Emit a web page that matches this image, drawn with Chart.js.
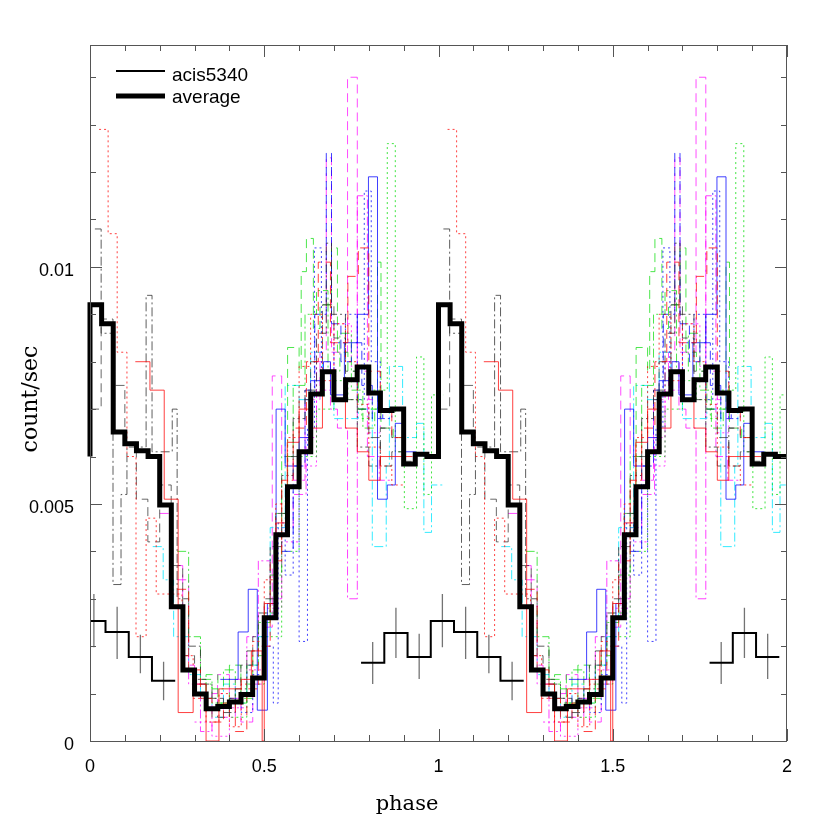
<!DOCTYPE html>
<html><head><meta charset="utf-8">
<script src="https://cdn.jsdelivr.net/npm/chart.js@4.4.1/dist/chart.umd.min.js"></script>
<style>html,body{margin:0;padding:0;background:#fff}</style>
</head><body>
<canvas id="c" width="830" height="830" style="display:block;width:830px;height:830px"></canvas>
<script>
// ---------------- data ----------------
const xTickValues = [0, 0.5, 1, 1.5, 2];
const xTickLabels = ['0', '0.5', '1', '1.5', '2'];
const yTickValues = [0, 0.005, 0.01];
const yTickLabels = ['0', '0.005', '0.01'];
const yMax = 0.01468;
const cycles = [0, 1];

// average light curve, 30 phase bins per cycle
const averageValues = [0.0092, 0.0088, 0.00652, 0.00627, 0.00612, 0.0060, 0.00498, 0.00283, 0.0015, 0.00099,
  0.00068, 0.00073, 0.00082, 0.00098, 0.00133, 0.0026, 0.00435, 0.00536, 0.0061, 0.00732,
  0.00779, 0.0072, 0.00762, 0.00789, 0.00734, 0.00697, 0.0070, 0.00584, 0.00605, 0.0060];

// acis5340, 15 phase bins per cycle (null = not plotted)
const acisBinStarts = [-0.0222, 0.0445, 0.1112, 0.1778, 0.2445, 0.3112, 0.3778, 0.4445, 0.5112, 0.5778, 0.6445, 0.7112, 0.7778, 0.8445, 0.9112];
const acisValues = [0.00253, 0.0023, 0.00177, 0.00127, null, null, null, null, null, null, null, null, 0.00165, 0.00228, 0.00177];
const acisErrLow = [0.00198, 0.00173, 0.00143, 0.00086, null, null, null, null, null, null, null, null, 0.0012, 0.00175, 0.00131];
const acisErrHigh = [0.0031, 0.00283, 0.00224, 0.00167, null, null, null, null, null, null, null, null, 0.00209, 0.00281, 0.00226];

// individual observations: [phase bin start, count/sec]
const redSolid = [[0.13,0.0080],[0.172,0.0074],[0.213,0.0051],[0.253,0.0006],[0.296,0.0012],[0.333,0.0],[0.37,0.0011],[0.434,0.0013],[0.463,0.0019],[0.494,0.0],[0.5,0.0029],[0.534,0.0046],[0.566,0.0063],[0.6,0.0070],[0.633,0.0066],[0.667,0.0078],[0.7,0.0072],[0.733,0.0066],[0.767,0.0061],[0.8,0.0055],[0.833,0.0060],[0.866,0.0060]];
const redDotted = [[0.026,0.0129],[0.052,0.0107],[0.078,0.0082],[0.106,0.0060],[0.132,0.0022],[0.161,0.0047],[0.19,0.0031],[0.236,0.0031],[0.264,0.0018],[0.296,0.0009],[0.333,0.0004],[0.37,0.0010],[0.40,0.0003],[0.434,0.0012],[0.467,0.0021],[0.5,0.0034],[0.533,0.0050],[0.567,0.0064],[0.6,0.0079],[0.633,0.0090],[0.667,0.0076],[0.70,0.0088],[0.733,0.0080],[0.767,0.0071],[0.80,0.0062],[0.833,0.0058],[0.866,0.0054]];
const redDashed = [[0.25,0.0032],[0.283,0.0015],[0.317,0.0009],[0.35,0.0004],[0.383,0.0008],[0.417,0.0002],[0.45,0.0011],[0.483,0.0020],[0.517,0.0038],[0.55,0.0055],[0.583,0.0066],[0.621,0.0080],[0.655,0.0101],[0.69,0.0084],[0.74,0.0098],[0.77,0.0104],[0.80,0.0078],[0.833,0.0070],[0.866,0.0064],[0.9,0.0060]];
const grayDashDot = [[0.014,0.0108],[0.032,0.0086],[0.066,0.0033],[0.089,0.0052],[0.106,0.0062],[0.161,0.0094],[0.178,0.0061],[0.236,0.0070],[0.25,0.0030],[0.283,0.0020],[0.317,0.0012],[0.35,0.0009],[0.383,0.0006],[0.417,0.0011],[0.45,0.0019],[0.483,0.0027],[0.517,0.0041],[0.55,0.0056],[0.583,0.0068],[0.617,0.0074],[0.65,0.0086],[0.678,0.0105],[0.693,0.0090],[0.733,0.0072],[0.767,0.0062],[0.80,0.0058],[0.833,0.0066],[0.866,0.0064]];
const grayDashed = [[0.0,0.0070],[0.032,0.0089],[0.066,0.0075],[0.1,0.0063],[0.133,0.0051],[0.166,0.0042],[0.2,0.0054],[0.233,0.0037],[0.266,0.0018],[0.3,0.0013],[0.333,0.0009],[0.366,0.0005],[0.40,0.0009],[0.433,0.0016],[0.467,0.0022],[0.5,0.0030],[0.533,0.0048],[0.567,0.0060],[0.6,0.0072],[0.633,0.0080],[0.667,0.0092],[0.70,0.0085],[0.733,0.0078],[0.767,0.0070],[0.8,0.0064],[0.833,0.0058],[0.866,0.0061],[0.9,0.0059]];
const blueSolid = [[0.374,0.0013],[0.425,0.0023],[0.454,0.0032],[0.48,0.00065],[0.509,0.0029],[0.534,0.0070],[0.56,0.0058],[0.6,0.0064],[0.633,0.0076],[0.67,0.0080],[0.69,0.0073],[0.73,0.0084],[0.767,0.0090],[0.799,0.0119],[0.825,0.0051],[0.853,0.0054],[0.876,0.0067],[0.902,0.0061]];
const blueDotted = [[0.40,0.0009],[0.434,0.0006],[0.467,0.0014],[0.5,0.0020],[0.526,0.0008],[0.54,0.0046],[0.56,0.0035],[0.583,0.0054],[0.6,0.0021],[0.624,0.0066],[0.644,0.0104],[0.664,0.0078],[0.70,0.0084],[0.733,0.0090],[0.767,0.0072],[0.787,0.0116],[0.807,0.0080],[0.833,0.0068],[0.866,0.0070]];
const blueDashed = [[0.55,0.0040],[0.583,0.0058],[0.617,0.0074],[0.645,0.0090],[0.678,0.0124],[0.693,0.0088],[0.72,0.0080],[0.75,0.0084],[0.78,0.0075],[0.81,0.0068],[0.84,0.0070]];
const greenDashed = [[0.30,0.0010],[0.333,0.0014],[0.367,0.0008],[0.40,0.0016],[0.433,0.0009],[0.467,0.0018],[0.5,0.0027],[0.533,0.0048],[0.567,0.0083],[0.6,0.0078],[0.606,0.0099],[0.621,0.0106],[0.641,0.0087],[0.66,0.0092],[0.693,0.0104],[0.71,0.0082],[0.74,0.0078],[0.77,0.0070],[0.825,0.0101],[0.835,0.0066],[0.87,0.0064]];
const greenDotted = [[0.30,0.0012],[0.35,0.0008],[0.40,0.0005],[0.45,0.0012],[0.5,0.0022],[0.55,0.0040],[0.6,0.0060],[0.65,0.0070],[0.70,0.0076],[0.74,0.0072],[0.78,0.0068],[0.81,0.0074],[0.853,0.0126],[0.876,0.0061],[0.902,0.0049],[0.937,0.0081],[0.958,0.0052],[0.98,0.0073]];
const greenDashDot = [[0.25,0.0040],[0.283,0.0022],[0.317,0.0013],[0.35,0.0011],[0.383,0.0015],[0.417,0.0008],[0.45,0.0016],[0.483,0.0025],[0.517,0.0035],[0.55,0.0060],[0.583,0.0075],[0.617,0.0090],[0.65,0.0095],[0.683,0.0078],[0.717,0.0086],[0.75,0.0074],[0.783,0.0066],[0.817,0.0070]];
const cyanDashDot = [[0.18,0.0041],[0.21,0.0034],[0.24,0.0022],[0.283,0.0014],[0.317,0.0009],[0.35,0.0005],[0.383,0.0012],[0.417,0.0008],[0.45,0.0016],[0.483,0.0022],[0.517,0.0045],[0.56,0.0075],[0.6,0.0072],[0.633,0.0082],[0.667,0.0078],[0.70,0.0068],[0.77,0.0070],[0.81,0.0041],[0.85,0.0058],[0.859,0.0079],[0.897,0.0064],[0.937,0.0067],[0.958,0.0044],[0.98,0.0054]];
const magentaDashed = [[0.20,0.0048],[0.233,0.0037],[0.266,0.0016],[0.30,0.0012],[0.333,0.0007],[0.366,0.0014],[0.40,0.0009],[0.433,0.0004],[0.467,0.0012],[0.5,0.0024],[0.523,0.0077],[0.55,0.0060],[0.583,0.0055],[0.617,0.0072],[0.66,0.0082],[0.678,0.0123],[0.693,0.0082],[0.739,0.0140],[0.767,0.0078],[0.80,0.0072],[0.833,0.0066]];
const magentaDashDot = [[0.25,0.0034],[0.283,0.0012],[0.317,0.0002],[0.35,0.0010],[0.383,0.0005],[0.417,0.0013],[0.45,0.0022],[0.483,0.0038],[0.517,0.0030],[0.55,0.0045],[0.583,0.0052],[0.62,0.0064],[0.65,0.0080],[0.69,0.0070],[0.71,0.0066],[0.739,0.0030],[0.767,0.0115],[0.796,0.0060],[0.83,0.0055]];
const magentaDotted = [[0.30,0.0004],[0.35,0.0001],[0.40,0.0007],[0.45,0.0015],[0.50,0.0028],[0.55,0.0042],[0.6,0.0058],[0.65,0.0074],[0.70,0.0088],[0.75,0.0079],[0.80,0.0065]];

// ---------------- build datasets ----------------
const DOT = [2, 3], DASH = [9, 5], DASHDOT = [9, 3, 2, 3];
const observations = [
  { list: redSolid,       color: 'rgba(255,0,0,0.75)',   dash: [] },
  { list: redDotted,      color: 'rgba(255,0,0,0.75)',   dash: DOT },
  { list: redDashed,      color: 'rgba(255,0,0,0.75)',   dash: DASH },
  { list: grayDashDot,    color: 'rgba(40,40,40,0.75)',  dash: DASHDOT },
  { list: grayDashed,     color: 'rgba(40,40,40,0.7)',   dash: DASH },
  { list: blueSolid,      color: 'rgba(0,0,255,0.75)',   dash: [] },
  { list: blueDotted,     color: 'rgba(0,0,255,0.75)',   dash: DOT },
  { list: blueDashed,     color: 'rgba(0,0,255,0.75)',   dash: DASH },
  { list: greenDashed,    color: 'rgba(0,220,0,0.7)',    dash: DASH },
  { list: greenDotted,    color: 'rgba(0,220,0,0.75)',   dash: DOT },
  { list: greenDashDot,   color: 'rgba(0,220,0,0.7)',    dash: DASHDOT },
  { list: cyanDashDot,    color: 'rgba(0,230,255,0.8)',  dash: DASHDOT },
  { list: magentaDashed,  color: 'rgba(255,0,255,0.7)',  dash: DASH },
  { list: magentaDashDot, color: 'rgba(255,0,255,0.75)', dash: DASHDOT },
  { list: magentaDotted,  color: 'rgba(255,0,255,0.75)', dash: DOT }
];
const obsBinWidth = 1 / 30;

function obsPoints(list) {
  const pts = [];
  cycles.forEach(c => {
    list.forEach(p => pts.push({ x: p[0] + c, y: p[1] }));
    const last = list[list.length - 1];
    pts.push({ x: last[0] + obsBinWidth + c, y: last[1] });
    pts.push({ x: c + 1, y: null });
  });
  return pts;
}

function averagePoints() {
  const n = averageValues.length;
  const pts = [{ x: 0, y: averageValues[n - 1] }];
  cycles.forEach(c => averageValues.forEach((v, i) => pts.push({ x: c + i / n, y: v })));
  pts.push({ x: cycles.length, y: averageValues[n - 1] });
  return pts;
}

function acisPoints() {
  const pts = [];
  const w = acisBinStarts[1] - acisBinStarts[0];
  cycles.forEach(c => {
    acisValues.forEach((v, i) => {
      const s = acisBinStarts[i] + c;
      if (v === null) { pts.push({ x: s, y: null }); return; }
      pts.push({ x: s, y: v });
      const next = (i + 1 < acisValues.length) ? acisValues[i + 1] : (c + 1 < cycles.length ? acisValues[0] : null);
      if (next === null) pts.push({ x: s + w, y: v });
    });
  });
  return pts;
}

function acisErrPoints() {
  const pts = [];
  const w = acisBinStarts[1] - acisBinStarts[0];
  cycles.forEach(c => {
    acisValues.forEach((v, i) => {
      if (v === null) return;
      const xc = acisBinStarts[i] + w / 2 + c;
      pts.push({ x: xc, y: acisErrLow[i] }, { x: xc, y: acisErrHigh[i] }, { x: xc, y: null });
    });
  });
  return pts;
}

const datasets = [
  { label: 'average', data: averagePoints(), stepped: 'before', borderColor: '#000', borderWidth: 5, clip: false },
  { label: 'acis5340', data: acisPoints(), stepped: 'before', borderColor: '#000', borderWidth: 2 },
  { label: 'acis5340 errors', data: acisErrPoints(), borderColor: 'rgba(0,0,0,0.55)', borderWidth: 1.3 }
].concat(observations.map((o, k) => ({
  label: 'obs' + k, data: obsPoints(o.list), stepped: 'before',
  borderColor: o.color, borderWidth: 1, borderDash: o.dash
})));

datasets.forEach(d => {
  d.pointRadius = 0; d.pointHoverRadius = 0; d.fill = false; d.spanGaps = false;
  d.borderJoinStyle = 'miter'; d.borderCapStyle = 'butt'; d.tension = 0;
});

// ---------------- frame, ticks, legend, titles ----------------
const framePlugin = {
  id: 'frame',
  afterDraw(chart) {
    const { ctx, chartArea: a, scales: { x, y } } = chart;
    ctx.save();
    ctx.strokeStyle = '#555';
    ctx.lineWidth = 1;
    ctx.strokeRect(a.left + 0.5, a.top + 0.5, a.right - a.left - 1, a.bottom - a.top);
    ctx.beginPath();
    for (let k = 0; k <= 20; k++) {
      const v = k / 10;
      const px = Math.round(x.getPixelForValue(v)) + 0.5;
      const len = (k % 5 === 0) ? 12 : 6;
      ctx.moveTo(px, a.bottom); ctx.lineTo(px, a.bottom - len);
      ctx.moveTo(px, a.top); ctx.lineTo(px, a.top + len);
    }
    for (let k = 0; k <= 14; k++) {
      const v = k / 1000;
      const py = Math.round(y.getPixelForValue(v)) + 0.5;
      const len = (k % 5 === 0) ? 12 : 6;
      ctx.moveTo(a.left, py); ctx.lineTo(a.left + len, py);
      ctx.moveTo(a.right, py); ctx.lineTo(a.right - len, py);
    }
    ctx.stroke();

    // legend
    ctx.strokeStyle = '#000';
    ctx.setLineDash([]);
    ctx.lineWidth = 2;
    ctx.beginPath(); ctx.moveTo(116, 71); ctx.lineTo(165, 71); ctx.stroke();
    ctx.lineWidth = 5;
    ctx.beginPath(); ctx.moveTo(116, 96); ctx.lineTo(165, 96); ctx.stroke();
    ctx.fillStyle = '#000';
    ctx.font = '19px "Liberation Sans", Arial, sans-serif';
    ctx.textAlign = 'left'; ctx.textBaseline = 'alphabetic';
    ctx.fillText('acis5340', 172, 81);
    ctx.fillText('average', 172, 103);

    // axis titles
    ctx.font = '21px "DejaVu Serif", serif';
    ctx.textAlign = 'center'; ctx.textBaseline = 'alphabetic';
    ctx.fillText('phase', 407, 810);
    ctx.save();
    ctx.translate(37, 399);
    ctx.rotate(-Math.PI / 2);
    ctx.font = '22px "DejaVu Serif", serif';
    ctx.fillText('count/sec', 0, 0);
    ctx.restore();
    ctx.restore();
  }
};

new Chart(document.getElementById('c'), {
  type: 'line',
  data: { datasets },
  plugins: [framePlugin],
  options: {
    responsive: false,
    animation: false,
    devicePixelRatio: 1,
    layout: { padding: { top: 45, right: 43, left: 0, bottom: 0 } },
    plugins: { legend: { display: false }, tooltip: { enabled: false } },
    events: [],
    scales: {
      x: {
        type: 'linear', min: 0, max: 2,
        grid: { display: false, drawTicks: false }, border: { display: false },
        afterFit: s => { s.height = 89; },
        afterBuildTicks: s => { s.ticks = xTickValues.map(v => ({ value: v })); },
        ticks: {
          color: '#000', padding: 15, maxRotation: 0, autoSkip: false,
          font: { family: '"Liberation Sans", Arial, sans-serif', size: 18 },
          callback: (v, i) => xTickLabels[i]
        }
      },
      y: {
        type: 'linear', min: 0, max: yMax,
        grid: { display: false, drawTicks: false }, border: { display: false },
        afterFit: s => { s.width = 90; },
        afterBuildTicks: s => { s.ticks = yTickValues.map(v => ({ value: v })); },
        ticks: {
          color: '#000', padding: 16, labelOffset: 4, autoSkip: false,
          font: { family: '"Liberation Sans", Arial, sans-serif', size: 18 },
          callback: (v, i) => yTickLabels[i]
        }
      }
    }
  }
});
</script>
</body></html>
